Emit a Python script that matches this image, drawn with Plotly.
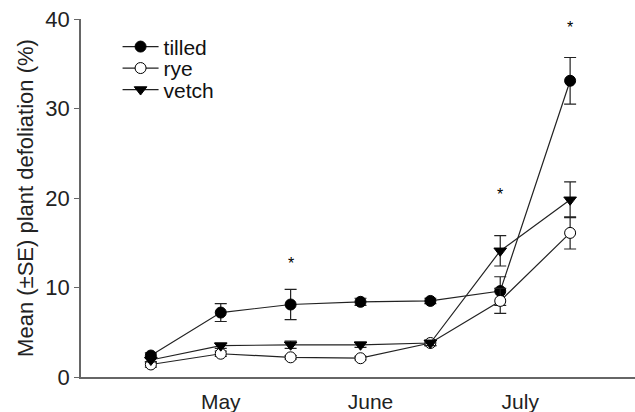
import plotly.graph_objects as go

days = [121, 135, 149, 163, 177, 191, 205]
tilled = [2.4, 7.2, 8.1, 8.4, 8.5, 9.6, 33.1]
tilled_se = [0.3, 1.0, 1.7, 0.4, 0.3, 1.6, 2.6]
rye = [1.4, 2.6, 2.2, 2.1, 3.8, 8.5, 16.1]
rye_se = [0.3, 0.3, 0.2, 0.2, 0.3, 1.4, 1.8]
vetch = [1.9, 3.5, 3.6, 3.6, 3.8, 14.1, 19.8]
vetch_se = [0.2, 0.3, 0.4, 0.3, 0.3, 1.7, 2.0]

month_days = [135, 165, 195]
month_labels = ["May", "June", "July"]

star_days = [149, 191, 205]
star_y = [12.7, 20.4, 39.0]

font = "Liberation Sans, Arial, sans-serif"
line_col = "#222222"

fig = go.Figure()

def add(name, y, se, symbol, fill, legend):
    fig.add_trace(go.Scatter(
        x=days, y=y, name=name, mode="lines+markers", legend=legend,
        line=dict(color=line_col, width=1.2),
        marker=dict(symbol=symbol, size=11, color=fill,
                    line=dict(color="black", width=1)),
        error_y=dict(type="data", array=se, visible=True,
                     color=line_col, thickness=1.2, width=6),
    ))

add("tilled", tilled, tilled_se, "circle", "black", "legend")
add("rye", rye, rye_se, "circle", "white", "legend2")
add("vetch", vetch, vetch_se, "triangle-down", "black", "legend3")

for d, s in zip(star_days, star_y):
    fig.add_annotation(x=d, y=s, text="*", showarrow=False,
                       font=dict(size=16, color="black", family=font))

def leg(y):
    return dict(x=0.066, y=y, xanchor="left", yanchor="middle",
                bgcolor="rgba(0,0,0,0)", font=dict(size=21, color="#111111"),
                itemwidth=36)

fig.update_layout(
    width=635, height=412,
    margin=dict(l=81, r=0, t=19, b=35),
    paper_bgcolor="white", plot_bgcolor="white",
    font=dict(family=font, color="#222222", size=21),
    showlegend=True,
    legend=leg(0.922), legend2=leg(0.862), legend3=leg(0.802),
)
fig.update_xaxes(
    range=[107, 218], tickvals=month_days, ticktext=month_labels,
    showline=True, linecolor="#666666", linewidth=1.5,
    ticks="", showgrid=False, zeroline=False, automargin=False,
    ticklabelstandoff=5,
    tickfont=dict(size=21, color="#222222"),
)
fig.update_yaxes(
    range=[0, 40], tickvals=[0, 10, 20, 30, 40],
    showline=True, linecolor="#666666", linewidth=1.5,
    ticks="outside", ticklen=5, tickcolor="#666666",
    showgrid=False, zeroline=False, automargin=False,
    tickfont=dict(size=22, color="#222222"),
    title=dict(text="Mean (±SE) plant defoliation (%)",
               font=dict(size=22, color="#222222"), standoff=6),
)

fig.write_html("out.html")
